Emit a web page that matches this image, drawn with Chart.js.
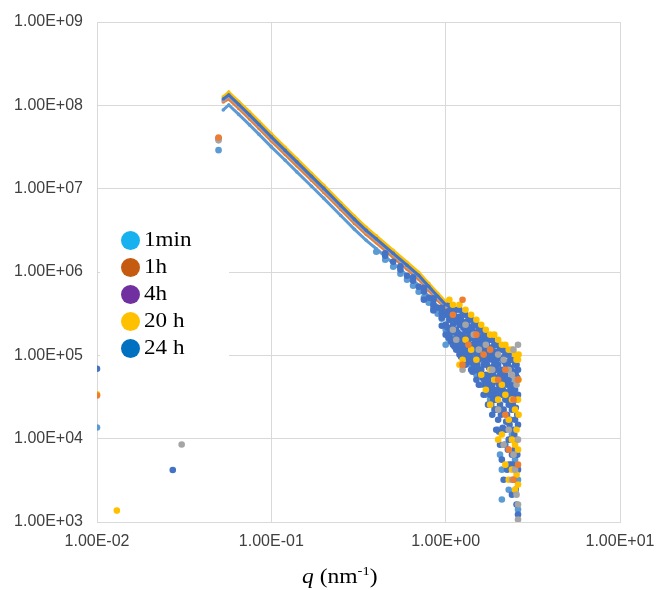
<!DOCTYPE html>
<html>
<head>
<meta charset="utf-8">
<script src="https://cdn.jsdelivr.net/npm/chart.js@4/dist/chart.umd.min.js"></script>
<style>
  html, body { margin: 0; padding: 0; background: #ffffff; }
  #wrap { position: relative; width: 656px; height: 590px; background: #ffffff; }
  #c { position: absolute; left: 0; top: 0; }
  #legend { position: absolute; left: 100px; top: 228px; width: 129px; height: 134px; background: #ffffff; }
  .row { position: absolute; left: 0; width: 129px; height: 26px; }
  .dot { position: absolute; left: 20.5px; top: 3.5px; width: 19px; height: 19px; border-radius: 50%; }
  .lab { position: absolute; left: 44px; top: -1.5px; font-family: 'Liberation Serif', 'Times New Roman', serif; font-size: 21px; line-height: 26px; color: #000; white-space: nowrap; transform: scaleX(1.1); transform-origin: left center; }
  #xt { position: absolute; left: 302px; top: 566px; font-family: 'Liberation Serif', 'Times New Roman', serif; font-size: 21px; line-height: 21px; color: #000; white-space: nowrap; transform: scaleX(1.12); transform-origin: left center; }
  #xt sup { font-size: 13px; line-height: 0; vertical-align: 8px; }
</style>
</head>
<body>
<div id="wrap">
  <canvas id="c" width="656" height="590"></canvas>
  <div id="legend"></div>
  <div id="xt"><i>q</i> (nm<sup>-1</sup>)</div>
</div>
<script>
// ---------- axis ticks ----------
const xTicks = [0.01, 0.1, 1, 10];
const xTickLabels = ['1.00E-02', '1.00E-01', '1.00E+00', '1.00E+01'];
const yTicks = [1e3, 1e4, 1e5, 1e6, 1e7, 1e8, 1e9];
const yTickLabels = ['1.00E+03', '1.00E+04', '1.00E+05', '1.00E+06', '1.00E+07', '1.00E+08', '1.00E+09'];

// ---------- series ----------
const seriesNames = ['1min', '1h', '4h', '20h', '24h'];
const legendLabels = ['1min', '1h', '4h', '20 h', '24 h'];
const legendColors = ['#16B1EE', '#C55A11', '#7030A0', '#FFC000', '#0070C0'];
const seriesColors = ['#4472C4', '#ED7D31', '#A5A5A5', '#FFC000', '#5B9BD5'];

// power-law part: q (nm^-1)
const qLine = [0.053, 0.057, 0.065, 0.075, 0.085, 0.1, 0.12, 0.14, 0.17, 0.2, 0.25, 0.3, 0.35, 0.4, 0.5, 0.6, 0.7, 0.8, 0.9, 1.0];
const iLine1min = [1.19e8, 1.33e8, 1.025e8, 7.67e7, 5.90e7, 4.18e7, 2.88e7, 2.10e7, 1.405e7, 1.008e7, 6.29e6, 4.28e6, 3.16e6, 2.50e6, 1.676e6, 1.206e6, 9.13e5, 6.72e5, 5.11e5, 4.04e5];
const iLine1h   = [1.10e8, 1.19e8, 9.17e7, 6.86e7, 5.28e7, 3.74e7, 2.58e7, 1.88e7, 1.26e7, 9.02e6, 5.63e6, 3.83e6, 2.83e6, 2.24e6, 1.50e6, 1.08e6, 8.17e5, 6.01e5, 4.57e5, 3.62e5];
const iLine4h   = [1.14e8, 1.28e8, 9.84e7, 7.36e7, 5.66e7, 4.01e7, 2.76e7, 2.02e7, 1.35e7, 9.68e6, 6.04e6, 4.11e6, 3.03e6, 2.40e6, 1.61e6, 1.16e6, 8.76e5, 6.45e5, 4.91e5, 3.88e5];
const iLine20h  = [1.27e8, 1.44e8, 1.11e8, 8.33e7, 6.41e7, 4.54e7, 3.13e7, 2.28e7, 1.53e7, 1.095e7, 6.83e6, 4.65e6, 3.43e6, 2.72e6, 1.82e6, 1.31e6, 9.92e5, 7.30e5, 5.55e5, 4.39e5];
const iLine24h  = [8.8e7, 1.01e8, 7.78e7, 5.82e7, 4.48e7, 3.17e7, 2.19e7, 1.59e7, 1.07e7, 7.65e6, 4.77e6, 3.25e6, 2.40e6, 1.90e6, 1.27e6, 9.15e5, 6.93e5, 5.10e5, 3.88e5, 3.07e5];

// scattered points [q, I]
const scatter1min = [
  [0.01, 6.9e4], [0.0272, 4.2e3], [0.0498, 4.0e7],
  [0.45, 1.676e6], [0.55, 1.171e6], [0.65, 8.64e5], [0.75, 6.46e5], [0.85, 4.84e5], [0.95, 3.72e5],
  [0.45, 1.564e6], [0.5, 1.326e6], [0.55, 1.063e6], [0.6, 9.00e5], [0.65, 7.84e5], [0.7, 6.65e5],
  [0.75, 5.79e5], [0.75, 4.65e5], [0.8, 4.91e5], [0.85, 4.65e5], [0.85, 4.05e5], [0.85, 3.46e5],
  [0.9, 3.72e5], [0.95, 3.52e5], [0.95, 3.15e5], [0.95, 2.82e5], [0.95, 2.26e5], [1.0, 3.07e5], [1.0, 2.33e5], [1.0, 1.77e5],
  [1.025, 3.33e5], [1.025, 2.14e5],
  [1.0375, 3.07e5], [1.0375, 1.63e5],
  [1.05, 4.05e5], [1.05, 2.67e5], [1.05, 1.77e5],
  [1.0625, 3.52e5], [1.0625, 2.03e5],
  [1.075, 3.33e5], [1.075, 2.14e5], [1.075, 1.46e5],
  [1.0875, 2.82e5], [1.0875, 1.54e5],
  [1.1, 3.52e5], [1.1, 2.33e5], [1.1, 1.34e5],
  [1.1125, 3.07e5], [1.1125, 1.54e5],
  [1.125, 2.90e5], [1.125, 1.92e5], [1.125, 1.27e5],
  [1.1375, 2.53e5], [1.1375, 1.42e5],
  [1.15, 3.52e5], [1.15, 2.03e5], [1.15, 1.17e5],
  [1.1625, 2.67e5], [1.1625, 1.63e5],
  [1.175, 2.82e5], [1.175, 1.87e5], [1.175, 1.27e5],
  [1.1875, 2.90e5], [1.1875, 1.34e5],
  [1.2, 3.52e5], [1.2, 2.33e5], [1.2, 1.54e5], [1.2, 1.02e5],
  [1.2125, 2.33e5], [1.2125, 1.23e5],
  [1.225, 2.67e5], [1.225, 1.46e5], [1.225, 9.62e4],
  [1.2375, 2.53e5], [1.2375, 1.34e5],
  [1.25, 3.07e5], [1.25, 1.77e5], [1.25, 1.17e5],
  [1.2625, 2.14e5], [1.2625, 1.11e5],
  [1.275, 2.46e5], [1.275, 1.63e5], [1.275, 9.62e4],
  [1.2875, 2.33e5], [1.2875, 1.02e5],
  [1.3, 3.07e5], [1.3, 2.03e5], [1.3, 1.34e5], [1.3, 7.71e4],
  [1.3125, 2.03e5], [1.3125, 1.17e5],
  [1.325, 2.53e5], [1.325, 1.63e5], [1.325, 1.11e5],
  [1.3375, 1.92e5], [1.3375, 9.36e4],
  [1.35, 2.67e5], [1.35, 1.54e5], [1.35, 1.02e5],
  [1.3625, 2.03e5], [1.3625, 8.38e4],
  [1.375, 2.20e5], [1.375, 1.34e5], [1.375, 8.38e4],
  [1.3875, 1.77e5], [1.3875, 9.62e4],
  [1.4, 2.67e5], [1.4, 1.77e5], [1.4, 1.17e5], [1.4, 6.71e4],
  [1.4125, 1.63e5], [1.4125, 8.38e4],
  [1.425, 2.14e5], [1.425, 1.11e5], [1.425, 6.36e4],
  [1.4375, 1.77e5], [1.4375, 8.86e4],
  [1.45, 2.33e5], [1.45, 1.34e5], [1.45, 7.71e4],
  [1.4625, 1.54e5], [1.4625, 7.72e4],
  [1.475, 1.87e5], [1.475, 1.17e5], [1.475, 6.72e4],
  [1.4875, 1.46e5], [1.4875, 7.10e4],
  [1.5, 2.33e5], [1.5, 1.54e5], [1.5, 1.02e5], [1.5, 5.09e4],
  [1.5125, 1.54e5], [1.5125, 7.72e4],
  [1.525, 1.87e5], [1.525, 1.23e5], [1.525, 7.10e4],
  [1.55, 2.03e5], [1.55, 1.34e5], [1.55, 8.85e4], [1.55, 4.44e4],
  [1.5625, 1.34e5], [1.5625, 6.36e4],
  [1.575, 1.63e5], [1.575, 1.02e5], [1.575, 5.85e4],
  [1.6, 2.03e5], [1.6, 1.17e5], [1.6, 6.71e4],
  [1.6125, 1.34e5], [1.6125, 5.85e4],
  [1.625, 1.54e5], [1.625, 9.36e4], [1.625, 5.39e4],
  [1.65, 1.77e5], [1.65, 1.17e5], [1.65, 7.71e4], [1.65, 3.37e4],
  [1.6625, 1.23e5], [1.6625, 5.09e4],
  [1.675, 1.46e5], [1.675, 8.38e4], [1.675, 4.44e4],
  [1.7, 1.77e5], [1.7, 1.02e5], [1.7, 5.85e4],
  [1.7125, 1.17e5], [1.7125, 4.44e4],
  [1.725, 1.34e5], [1.725, 7.72e4], [1.725, 3.87e4],
  [1.75, 1.54e5], [1.75, 8.85e4], [1.75, 5.09e4], [1.75, 2.56e4],
  [1.7625, 1.11e5], [1.7625, 3.66e4],
  [1.775, 1.23e5], [1.775, 7.10e4], [1.775, 4.09e4],
  [1.8, 1.54e5], [1.8, 1.02e5], [1.8, 5.85e4], [1.8, 3.37e4],
  [1.8125, 1.02e5], [1.8125, 4.44e4],
  [1.825, 1.23e5], [1.825, 7.10e4], [1.825, 2.56e4],
  [1.85, 1.54e5], [1.85, 8.85e4], [1.85, 4.44e4], [1.85, 1.94e4],
  [1.8625, 9.36e4], [1.8625, 3.37e4],
  [1.875, 1.11e5], [1.875, 5.85e4], [1.875, 2.94e4],
  [1.9, 1.34e5], [1.9, 7.71e4], [1.9, 3.87e4],
  [1.9125, 8.86e4], [1.9125, 2.94e4],
  [1.925, 1.11e5], [1.925, 5.39e4], [1.925, 2.23e4],
  [1.95, 1.34e5], [1.95, 6.71e4], [1.95, 2.94e4], [1.95, 1.28e4],
  [1.9625, 8.86e4], [1.9625, 3.37e4],
  [1.975, 1.02e5], [1.975, 4.83e4], [1.975, 2.23e4],
  [2.0, 1.34e5], [2.0, 7.71e4], [2.0, 3.87e4], [2.0, 1.69e4],
  [2.025, 9.36e4], [2.025, 4.44e4], [2.025, 1.21e4],
  [2.05, 1.17e5], [2.05, 5.85e4], [2.05, 2.56e4], [2.05, 8.47e3],
  [2.075, 9.36e4], [2.075, 4.09e4], [2.075, 1.94e4],
  [2.1, 1.17e5], [2.1, 6.71e4], [2.1, 3.37e4], [2.1, 5.60e3],
  [2.125, 8.86e4], [2.125, 3.87e4], [2.125, 1.35e4],
  [2.15, 1.17e5], [2.15, 5.09e4], [2.15, 2.23e4], [2.15, 3.22e3],
  [2.175, 8.38e4], [2.175, 3.66e4], [2.175, 8.47e3],
  [2.2, 1.02e5], [2.2, 5.85e4], [2.2, 2.94e4], [2.2, 1.28e4],
  [2.225, 7.72e4], [2.225, 3.37e4], [2.225, 1.60e4],
  [2.25, 1.02e5], [2.25, 4.44e4], [2.25, 1.94e4], [2.25, 4.25e3],
  [2.275, 7.72e4], [2.275, 3.10e4], [2.275, 7.38e3],
  [2.3, 1.02e5], [2.3, 5.09e4], [2.3, 2.56e4], [2.3, 9.73e3],
  [2.325, 7.10e4], [2.325, 3.37e4], [2.325, 1.47e4],
  [2.35, 8.85e4], [2.35, 3.87e4], [2.35, 1.69e4], [2.35, 4.88e3],
  [2.375, 6.72e4], [2.375, 2.78e4], [2.375, 9.73e3],
  [2.4, 8.85e4], [2.4, 4.44e4], [2.4, 2.23e4], [2.4, 6.43e3], [2.4, 2.13e3],
  [2.425, 6.36e4], [2.425, 2.56e4], [2.425, 4.88e3],
  [2.45, 8.85e4], [2.45, 3.37e4], [2.45, 1.28e4], [2.45, 3.22e3],
  [2.475, 6.36e4], [2.475, 2.23e4], [2.475, 1.12e4],
  [2.5, 7.71e4], [2.5, 3.87e4], [2.5, 1.69e4], [2.5, 7.38e3],
  [2.525, 5.85e4], [2.525, 2.35e4], [2.525, 2.45e3],
  [2.55, 7.71e4], [2.55, 2.94e4], [2.55, 9.73e3], [2.55, 1.62e3],
  [2.575, 5.39e4], [2.575, 1.94e4], [2.575, 6.43e3],
  [2.6, 6.71e4], [2.6, 3.37e4], [2.6, 1.47e4], [2.6, 4.25e3], [2.6, 1.23e3]
];
const scatter1h = [
  [0.01, 3.3e4], [0.0498, 4.1e7],
  [1.1, 3.07e5], [1.25, 4.65e5], [1.25, 7.71e4], [1.35, 1.34e5], [1.5, 1.77e5],
  [1.65, 1.02e5], [1.8, 1.17e5], [2.0, 5.09e4], [2.2, 6.71e4], [2.2, 1.94e4],
  [2.3, 7.38e3], [2.45, 2.94e4], [2.45, 3.22e3], [2.6, 5.09e4], [2.6, 4.88e3]
];
const scatter4h = [
  [0.0306, 8.5e3], [0.0498, 3.8e7],
  [1.1, 2.03e5], [1.15, 1.54e5], [1.25, 6.71e4], [1.3, 2.33e5], [1.45, 1.77e5],
  [1.55, 1.17e5], [1.7, 1.34e5], [1.85, 6.71e4], [2.0, 1.02e5], [2.0, 2.23e4],
  [2.15, 8.85e4], [2.15, 8.47e3], [2.3, 6.71e4], [2.3, 1.28e4], [2.4, 5.85e4],
  [2.4, 3.22e3], [2.45, 1.17e5], [2.45, 6.43e3], [2.5, 5.09e4], [2.5, 4.25e3],
  [2.55, 4.44e4], [2.55, 2.13e3], [2.6, 1.34e5], [2.6, 9.73e3], [2.6, 1.62e3], [2.6, 1.07e3]
];
const scatter20h = [
  [0.01, 3.4e4], [0.013, 1.37e3],
  [1.05, 4.65e5], [1.1, 4.05e5], [1.2, 4.05e5], [1.2, 7.71e4], [1.25, 8.85e4],
  [1.3, 3.52e5], [1.3, 1.54e5], [1.4, 3.07e5], [1.4, 1.17e5], [1.5, 2.67e5], [1.5, 8.85e4],
  [1.6, 2.33e5], [1.6, 5.85e4], [1.7, 2.03e5], [1.7, 3.87e4],
  [1.8, 1.77e5], [1.8, 6.71e4], [1.8, 2.56e4], [1.9, 1.77e5], [1.9, 5.09e4],
  [2.0, 1.54e5], [2.0, 2.94e4], [2.0, 9.73e3], [2.1, 1.34e5], [2.1, 4.44e4], [2.1, 1.12e4],
  [2.2, 1.34e5], [2.2, 3.37e4], [2.2, 4.88e3], [2.3, 1.17e5], [2.3, 1.69e4], [2.3, 3.22e3],
  [2.4, 1.17e5], [2.4, 2.94e4], [2.4, 9.73e3], [2.4, 4.25e3],
  [2.5, 1.02e5], [2.5, 2.23e4], [2.5, 8.47e3], [2.5, 2.44e3],
  [2.55, 8.85e4], [2.55, 1.28e4], [2.55, 3.70e3],
  [2.6, 8.85e4], [2.6, 2.94e4], [2.6, 7.38e3], [2.6, 2.81e3],
  [2.62, 1.02e5], [2.62, 5.09e4], [2.62, 1.94e4]
];
const scatter24h = [
  [0.01, 1.36e4], [0.0498, 2.9e7],
  [0.4, 1.747e6], [0.45, 1.401e6], [0.5, 1.155e6], [0.55, 9.51e5], [0.6, 8.06e5], [0.65, 6.83e5],
  [0.7, 5.79e5], [0.75, 4.9e5], [0.8, 4.27e5], [0.85, 3.72e5], [0.9, 3.15e5], [0.95, 2.75e5],
  [1.0, 2.33e5], [1.0, 2.03e5], [1.0, 1.34e5],
  [1.05, 2.67e5], [1.05, 1.54e5], [1.1, 1.77e5], [1.2, 1.17e5], [1.3, 1.02e5],
  [1.4, 7.71e4], [1.5, 5.85e4], [1.6, 4.44e4], [1.7, 3.37e4], [1.8, 2.94e4],
  [1.9, 2.23e4], [2.0, 1.28e4], [2.05, 6.43e3], [2.1, 4.25e3], [2.1, 1.86e3],
  [2.2, 8.47e3], [2.3, 4.88e3], [2.3, 2.44e3], [2.4, 1.12e4], [2.5, 5.60e3],
  [2.6, 3.22e3], [2.6, 1.41e3]
];

// ---------- build datasets ----------
const lineI = { '1min': iLine1min, '1h': iLine1h, '4h': iLine4h, '20h': iLine20h, '24h': iLine24h };
const scatterPts = { '1min': scatter1min, '1h': scatter1h, '4h': scatter4h, '20h': scatter20h, '24h': scatter24h };
const colorOf = {};
seriesNames.forEach((n, k) => { colorOf[n] = seriesColors[k]; });

function scatterSet(name) {
  return {
    label: name,
    data: scatterPts[name].map(([x, y]) => ({ x, y })),
    backgroundColor: colorOf[name],
    borderColor: colorOf[name],
    pointRadius: 3.3,
    pointBorderWidth: 0,
    showLine: false
  };
}
function lineSet(name) {
  return {
    label: name,
    data: qLine.map((q, k) => ({ x: q, y: lineI[name][k] })),
    backgroundColor: colorOf[name],
    borderColor: colorOf[name],
    borderWidth: 3,
    pointRadius: 1.8,
    pointBorderWidth: 0,
    showLine: true,
    tension: 0
  };
}

// first dataset is drawn on top
const datasets = [
  scatterSet('1h'), scatterSet('4h'), scatterSet('20h'), scatterSet('1min'), scatterSet('24h'),
  lineSet('1min'), lineSet('4h'), lineSet('1h'), lineSet('24h'), lineSet('20h')
];

const gridColor = '#d9d9d9';
const tickFont = { family: "'Liberation Sans', Arial, sans-serif", size: 16 };

new Chart(document.getElementById('c').getContext('2d'), {
  type: 'scatter',
  data: { datasets },
  options: {
    responsive: false,
    animation: false,
    devicePixelRatio: 1,
    layout: { padding: { top: 22, right: 36, bottom: 0, left: 0 } },
    plugins: { legend: { display: false }, tooltip: { enabled: false }, title: { display: false } },
    scales: {
      x: {
        type: 'logarithmic',
        min: 0.01,
        max: 10,
        afterBuildTicks: s => { s.ticks = xTicks.map(v => ({ value: v })); },
        afterFit: s => { s.height = 68; s.paddingLeft = 0; s.paddingRight = 0; },
        ticks: {
          callback: (v, i) => xTickLabels[i],
          font: tickFont, color: '#404040', padding: 10,
          maxRotation: 0, minRotation: 0, autoSkip: false
        },
        grid: { color: gridColor, lineWidth: 1, drawTicks: false },
        border: { color: gridColor, width: 1 }
      },
      y: {
        type: 'logarithmic',
        min: 1e3,
        max: 1e9,
        afterBuildTicks: s => { s.ticks = yTicks.map(v => ({ value: v })); },
        afterFit: s => { s.width = 97; s.paddingTop = 0; s.paddingBottom = 0; },
        ticks: {
          callback: (v, i) => yTickLabels[i],
          font: tickFont, color: '#404040', padding: 14, autoSkip: false
        },
        grid: { color: gridColor, lineWidth: 1, drawTicks: false },
        border: { color: gridColor, width: 1 }
      }
    }
  }
});

// ---------- legend overlay (as in the original figure) ----------
const legendEl = document.getElementById('legend');
const rowTops = [-1, 26, 53, 80, 107];
legendLabels.forEach((txt, k) => {
  const row = document.createElement('div');
  row.className = 'row';
  row.style.top = rowTops[k] + 'px';
  const dot = document.createElement('div');
  dot.className = 'dot';
  dot.style.background = legendColors[k];
  const lab = document.createElement('div');
  lab.className = 'lab';
  lab.textContent = txt;
  row.appendChild(dot);
  row.appendChild(lab);
  legendEl.appendChild(row);
});
</script>
</body>
</html>
